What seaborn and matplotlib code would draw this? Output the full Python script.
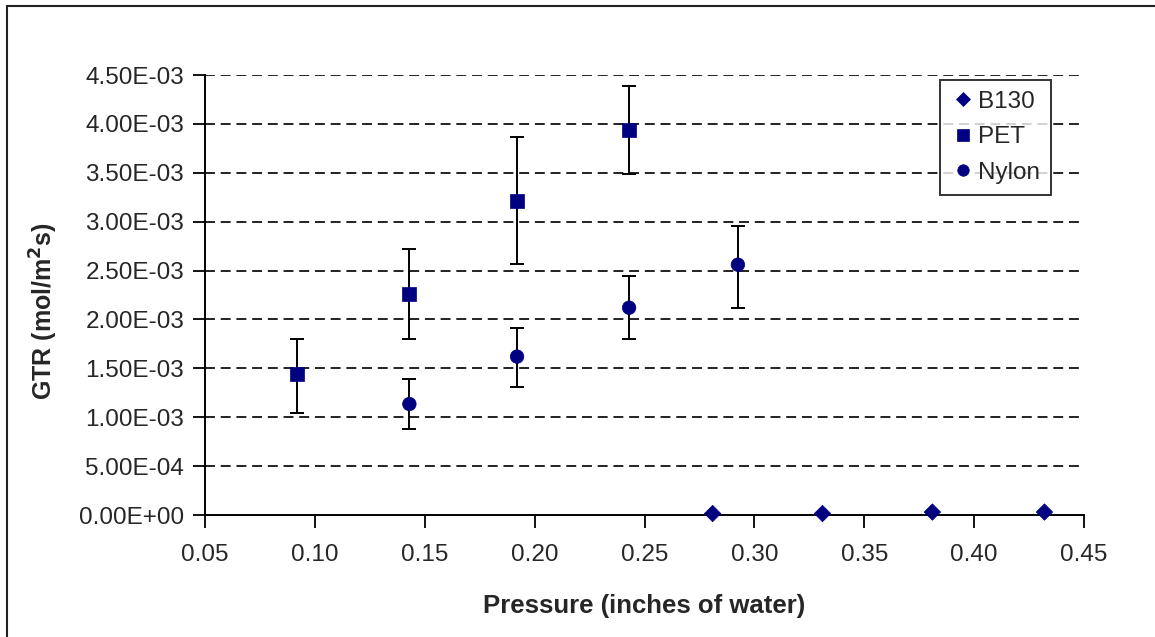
import numpy as np
import pandas as pd
import matplotlib
matplotlib.use("Agg")
import matplotlib.pyplot as plt
import seaborn as sns
from matplotlib.patches import Rectangle

# data
b130_x = [0.281, 0.331, 0.381, 0.432]
b130_y = [1.5e-5, 1.5e-5, 3.0e-5, 3.0e-5]

pet_x = [0.092, 0.143, 0.192, 0.243]
pet_y = [1.44e-3, 2.26e-3, 3.21e-3, 3.94e-3]
pet_lo = [1.04e-3, 1.80e-3, 2.57e-3, 3.49e-3]
pet_hi = [1.80e-3, 2.72e-3, 3.87e-3, 4.39e-3]

nylon_x = [0.143, 0.192, 0.243, 0.2925]
nylon_y = [1.135e-3, 1.62e-3, 2.12e-3, 2.56e-3]
nylon_lo = [0.88e-3, 1.31e-3, 1.795e-3, 2.12e-3]
nylon_hi = [1.39e-3, 1.91e-3, 2.44e-3, 2.96e-3]

x_ticks = [0.05, 0.10, 0.15, 0.20, 0.25, 0.30, 0.35, 0.40, 0.45]
y_ticks = [0, 0.5e-3, 1.0e-3, 1.5e-3, 2.0e-3, 2.5e-3, 3.0e-3, 3.5e-3, 4.0e-3, 4.5e-3]

sns.set_style("white")
plt.rcParams['font.family'] = ['Liberation Sans', 'DejaVu Sans']

df = pd.DataFrame({
    "x": b130_x + pet_x + nylon_x,
    "y": b130_y + pet_y + nylon_y,
    "series": ["B130"] * 4 + ["PET"] * 4 + ["Nylon"] * 4,
})

navy = "#000080"
fig = plt.figure(figsize=(11.55, 6.37), dpi=100)
ax = fig.add_axes([205 / 1155, 1 - 515 / 637, (1084 - 205) / 1155, (515 - 75) / 637])

# outer frame
fig.patches.append(Rectangle((7 / 1155, -0.1), 1.2, 1 - 6 / 637 + 0.1, transform=fig.transFigure,
                             fill=False, edgecolor="#222222", linewidth=1.5))

# horizontal dashed grid
for yv in y_ticks[1:]:
    ax.axhline(yv, color="#111111", linestyle=(0, (5.5, 3.2)), linewidth=1.3, zorder=1)

# error bars
ax.errorbar(pet_x, pet_y, yerr=[np.subtract(pet_y, pet_lo), np.subtract(pet_hi, pet_y)],
            fmt="none", ecolor="black", elinewidth=1.4, capsize=5, capthick=1.4, zorder=2)
ax.errorbar(nylon_x, nylon_y, yerr=[np.subtract(nylon_y, nylon_lo), np.subtract(nylon_hi, nylon_y)],
            fmt="none", ecolor="black", elinewidth=1.4, capsize=5, capthick=1.4, zorder=2)

sns.scatterplot(data=df, x="x", y="y", style="series", hue="series", size="series",
                markers={"B130": "D", "PET": "s", "Nylon": "o"},
                palette={"B130": navy, "PET": navy, "Nylon": navy},
                sizes={"B130": 70, "PET": 105, "Nylon": 95},
                edgecolor=navy, linewidth=0.5, ax=ax, zorder=5, clip_on=False)

ax.set_xlim(0.05, 0.45)
ax.set_ylim(0, 4.5e-3)
ax.set_xticks(x_ticks)
ax.set_xticklabels(["%.2f" % v for v in x_ticks])
ax.set_yticks(y_ticks)
ax.set_yticklabels(["%.2E" % v for v in y_ticks])
ax.tick_params(axis="both", direction="out", length=9, width=1.3, color="black",
               labelsize=17.5, left=True, bottom=True)
ax.tick_params(axis="x", pad=12)
ax.tick_params(axis="y", pad=6)

for s in ["top", "right"]:
    ax.spines[s].set_visible(False)
for s in ["left", "bottom"]:
    ax.spines[s].set_color("black")
    ax.spines[s].set_linewidth(1.4)
    ax.spines[s].set_zorder(4)

ax.set_xlabel("Pressure (inches of water)", fontsize=18.5, fontweight="bold", labelpad=20)
ax.set_ylabel("GTR (mol/m$^\\mathbf{2}$s)", fontsize=18, fontweight="bold")
ax.yaxis.set_label_coords(60 / 1155, 1 - 311 / 637, transform=fig.transFigure)

leg = ax.legend(loc="upper right", bbox_to_anchor=(1051 / 1155, 1 - 80 / 637),
                bbox_transform=fig.transFigure, borderaxespad=0, fontsize=17.5,
                frameon=True, fancybox=False, handletextpad=0.1, handlelength=1.0,
                borderpad=0.45, labelspacing=0.55, markerscale=0.85, title=None)
leg.get_frame().set_edgecolor("black")
leg.get_frame().set_linewidth(1.4)

fig.savefig("out.png", dpi=100)
